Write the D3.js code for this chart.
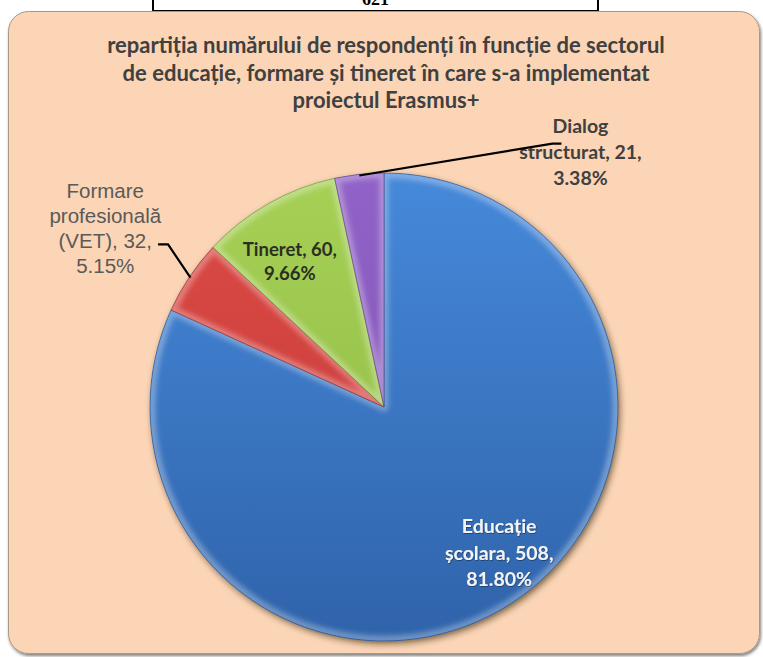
<!DOCTYPE html>
<html>
<head>
<meta charset="utf-8">
<script src="https://cdn.jsdelivr.net/npm/d3@7"></script>
<style>
  html, body { margin: 0; padding: 0; background: #ffffff; }
  svg { display: block; }
</style>
</head>
<body>
<svg id="chart" width="763" height="657"></svg>
<script>
// ---- data ----
const categories = ["Educație școlara", "Formare profesională (VET)", "Tineret", "Dialog structurat"];
const values = [508, 32, 60, 21];
const categoryLines = [["Educație", "școlara"], ["Formare", "profesională", "(VET)"], ["Tineret"], ["Dialog", "structurat"]];
const totalLabel = "621";
const titleLines = [
  "repartiția numărului de respondenți în funcție de sectorul",
  "de educație, formare și tineret în care s-a implementat",
  "proiectul Erasmus+"
];

// ---- styles / layout ----
const sliceTop = ["#4689da", "#dc4a46", "#a6d055", "#9163c8"];
const sliceBottom = ["#2f63aa", "#c23a38", "#8cb845", "#7a4fae"];
const cx = 384, cy = 407, R = 234;

const svg = d3.select("#chart");
const defs = svg.append("defs");

const ps = defs.append("filter").attr("id", "panelShadow").attr("x", "-5%").attr("y", "-5%").attr("width", "110%").attr("height", "110%");
ps.append("feDropShadow").attr("dx", 1).attr("dy", 2).attr("stdDeviation", 1.5).attr("flood-color", "#000").attr("flood-opacity", 0.5);

const sh = defs.append("filter").attr("id", "pieShadow").attr("x", "-10%").attr("y", "-10%").attr("width", "120%").attr("height", "120%");
sh.append("feDropShadow").attr("dx", 2).attr("dy", 3).attr("stdDeviation", 3).attr("flood-color", "#2a1a05").attr("flood-opacity", 0.6);

const bl = defs.append("filter").attr("id", "soft").attr("x", "-10%").attr("y", "-10%").attr("width", "120%").attr("height", "120%");
bl.append("feGaussianBlur").attr("stdDeviation", 2.5);

const ts = defs.append("filter").attr("id", "textShadow").attr("x", "-10%").attr("y", "-10%").attr("width", "120%").attr("height", "120%");
ts.append("feDropShadow").attr("dx", 0.6).attr("dy", 0.8).attr("stdDeviation", 0.6).attr("flood-color", "#000").attr("flood-opacity", 0.45);

sliceTop.forEach((c, i) => {
  const g = defs.append("linearGradient").attr("id", "grad" + i)
    .attr("gradientUnits", "userSpaceOnUse").attr("x1", 0).attr("y1", -R).attr("x2", 0).attr("y2", R);
  g.append("stop").attr("offset", "0%").attr("stop-color", c);
  g.append("stop").attr("offset", "100%").attr("stop-color", sliceBottom[i]);
});

// ---- top box (cut off at the top edge, as in the source) ----
svg.append("rect").attr("x", 153).attr("y", -30).attr("width", 445).attr("height", 41)
  .attr("fill", "#ffffff").attr("stroke", "#000").attr("stroke-width", 2);
svg.append("text").attr("x", 375.5).attr("y", 5).attr("text-anchor", "middle")
  .attr("font-family", "Liberation Serif, serif").attr("font-weight", "bold").attr("font-size", 18)
  .attr("fill", "#000").text(totalLabel);

// ---- panel ----
svg.append("rect").attr("x", 8.5).attr("y", 11.5).attr("width", 751).attr("height", 642).attr("rx", 20)
  .attr("fill", "#fbd5b5").attr("stroke", "#a89888").attr("stroke-width", 1)
  .attr("filter", "url(#panelShadow)");

// ---- title ----
const title = svg.append("text").attr("text-anchor", "middle")
  .attr("font-family", "Lato, 'Open Sans', sans-serif").attr("font-weight", "bold").attr("font-size", 22)
  .attr("fill", "#404040");
titleLines.forEach((t, i) => {
  title.append("tspan").attr("x", 386).attr("y", 53 + i * 27.5).text(t);
});

// ---- pie ----
const pie = d3.pie().sort(null).value(d => d);
const arcs = pie(values);
const arc = d3.arc().innerRadius(0).outerRadius(R);
const arcRim = d3.arc().innerRadius(0).outerRadius(R - 1);

arcs.forEach((d, i) => {
  defs.append("clipPath").attr("id", "clip" + i).append("path").attr("d", arc(d));
});

const gPie = svg.append("g").attr("transform", `translate(${cx},${cy})`);
// shadow base
gPie.append("g").attr("filter", "url(#pieShadow)")
  .selectAll("path").data(arcs).join("path")
  .attr("d", arc).attr("fill", (d, i) => `url(#grad${i})`);

const sl = gPie.selectAll("g.slice").data(arcs).join("g").attr("class", "slice");
sl.append("path").attr("d", arc).attr("fill", (d, i) => `url(#grad${i})`);
// light rim (bevel highlight) clipped to slice
sl.append("g").attr("clip-path", (d, i) => `url(#clip${i})`)
  .append("path").attr("d", arcRim)
  .attr("fill", "none").attr("stroke", "#ffffff").attr("stroke-opacity", 0.3)
  .attr("stroke-width", 9).attr("stroke-linejoin", "round").attr("filter", "url(#soft)");
// thin dark edge
sl.append("path").attr("d", arc)
  .attr("fill", "none").attr("stroke", (d, i) => d3.color(sliceBottom[i]).darker(0.8))
  .attr("stroke-opacity", 0.7).attr("stroke-width", 0.8).attr("stroke-linejoin", "round");

// ---- labels ----
const fmtPct = d3.format(".2%");
const total = d3.sum(values);
function labelTextLines(i) {
  const lines = categoryLines[i].slice();
  lines[lines.length - 1] = lines[lines.length - 1] + ", " + values[i] + ",";
  lines.push(fmtPct(values[i] / total));
  return lines;
}
const labelPlacement = [
  { dAng: -5.5, rf: 0.795, color: "#f4f4f4", font: "Lato, sans-serif", weight: "bold", size: 19.5, lh: 26.5, shadow: true },
  { dAng: -1.1, rf: 1.415, color: "#5a5a5a", font: "Liberation Sans, Arial, sans-serif", weight: "normal", size: 20.5, lh: 25.3 },
  { dAng: -3.4, rf: 0.74, color: "#2b2f22", font: "Lato, sans-serif", weight: "bold", size: 18.5, lh: 24 },
  { abs: 37.6, rf: 1.376, color: "#404040", font: "Lato, sans-serif", weight: "bold", size: 19.5, lh: 26 }
];
const toRad = Math.PI / 180;
arcs.forEach((d, i) => {
  const p = labelPlacement[i];
  const mid = (d.startAngle + d.endAngle) / 2;
  const ang = p.abs !== undefined ? p.abs * toRad : mid + p.dAng * toRad;
  const lx = cx + Math.sin(ang) * R * p.rf;
  const ly = cy - Math.cos(ang) * R * p.rf;
  const lines = labelTextLines(i);
  const t = svg.append("text").attr("text-anchor", "middle")
    .attr("font-family", p.font).attr("font-weight", p.weight).attr("font-size", p.size)
    .attr("fill", p.color);
  if (p.shadow) t.attr("filter", "url(#textShadow)");
  const y0 = ly - (lines.length - 1) * p.lh / 2 + p.size * 0.35;
  lines.forEach((s, k) => t.append("tspan").attr("x", lx).attr("y", y0 + k * p.lh).text(s));
});

// ---- leader lines ----
function polar(angle, f) {
  return [cx + Math.sin(angle) * R * f, cy - Math.cos(angle) * R * f];
}
const line = d3.line();
{
  const d = arcs[1];
  const mid = (d.startAngle + d.endAngle) / 2;
  const e = polar(mid, 0.995);
  const k = polar(mid + 3.2 * toRad, 1.155);
  svg.append("path").attr("d", line([e, k, [k[0] - 10, k[1]]]))
    .attr("fill", "none").attr("stroke", "#000").attr("stroke-width", 2.2);
}
{
  const d = arcs[3];
  const mid = (d.startAngle + d.endAngle) / 2;
  const e = polar(mid, 0.995);
  const k = polar(32.6 * toRad, 1.336);
  svg.append("path").attr("d", line([e, k, [k[0] + 9, k[1]]]))
    .attr("fill", "none").attr("stroke", "#000").attr("stroke-width", 2.2);
}
</script>
</body>
</html>
